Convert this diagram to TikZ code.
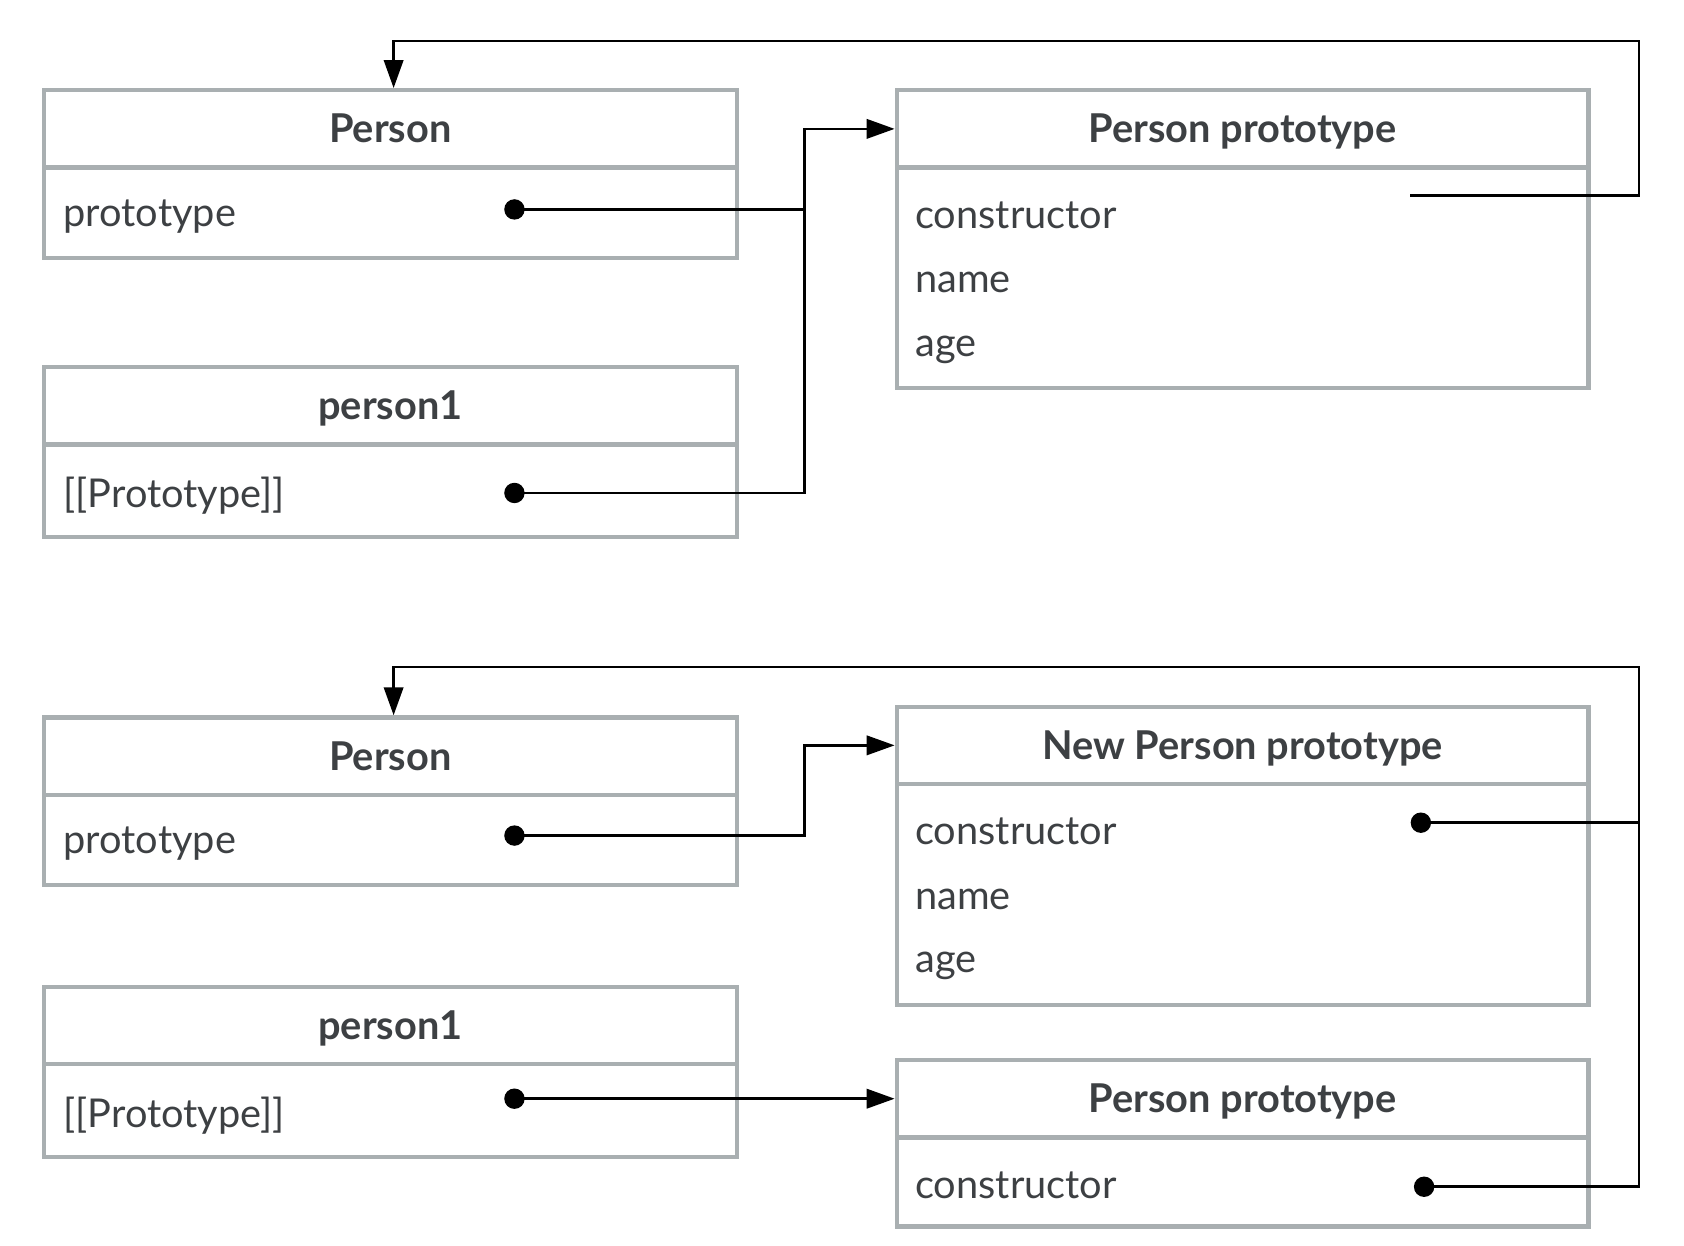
\documentclass[tikz,border=0pt]{standalone}
\usepackage{fontspec}
\setmainfont{Lato}
\usetikzlibrary{arrows.meta,calc}
\definecolor{boxgray}{HTML}{A9AFB1}
\definecolor{txt}{HTML}{3D4043}
\newcommand{\hdrfont}{\fontsize{37}{42}\selectfont\bfseries}
\newcommand{\fldfont}{\fontsize{37}{42}\selectfont}
\tikzset{
  hdr/.style={draw=boxgray, line width=4pt, minimum width=645pt, minimum height=72pt, inner sep=0pt, font=\hdrfont, text=txt, text height=26pt, text depth=0pt},
  body/.style={draw=boxgray, line width=4pt, minimum width=645pt, inner sep=0pt},
  fld/.style={anchor=west, font=\fldfont, text=txt, inner sep=0pt, text height=19pt, text depth=0pt},
  dotn/.style={circle, fill=black, minimum size=19pt, inner sep=0pt},
  conn/.style={line width=2.4pt, draw=black},
  arr/.style={conn, -{Triangle[length=26pt,width=18pt]}}
}
\begin{document}
\begin{tikzpicture}[x=1pt,y=-1pt]
\useasboundingbox (0,0) rectangle (1568,1160);
% ---------- top section ----------
\node[body, minimum height=84pt] (pB) at (363.5,198) {};
\node[hdr] (pH) at (363.5,120) {Person};
\node[fld] (pF) at (59,201) {prototype};
\node[dotn] (pD) at (479,195) {};

\node[body, minimum height=86pt] (p1B) at (363.5,457) {};
\node[hdr] (p1H) at (363.5,378) {person1};
\node[fld] (p1F) at (59,463) {[[Prototype]]};
\node[dotn] (p1D) at (479,459) {};

\node[body, minimum width=644pt, minimum height=205pt] (ppB) at (1157,258.5) {};
\node[hdr, minimum width=644pt] (ppH) at (1157,120) {Person prototype};
\node[fld] (ppF1) at (852,203) {constructor};
\node[fld] (ppF2) at (852,263) {name};
\node[fld] (ppF3) at (852,322) {age};
\coordinate (ppC) at (1313,182);
\coordinate (tR) at (1526,38);
\coordinate (jx) at (749,0);

\draw[conn] (pD.center) -- (pD.center -| jx);
\draw[arr] (p1D.center) -- (p1D.center -| jx) |- (ppH.west);
\draw[arr] (ppC) -| (tR) -| ($(pH.north)+(3,0)$);

% ---------- bottom section ----------
\node[body, minimum height=84pt] (qB) at (363.5,782) {};
\node[hdr] (qH) at (363.5,704) {Person};
\node[fld] (qF) at (59,785) {prototype};
\node[dotn] (qD) at (479,778) {};

\node[body, minimum height=86pt] (q1B) at (363.5,1034) {};
\node[hdr] (q1H) at (363.5,955) {person1};
\node[fld] (q1F) at (59,1040) {[[Prototype]]};
\node[dotn] (q1D) at (479,1023) {};

\node[body, minimum width=644pt, minimum height=206pt] (npB) at (1157,833) {};
\node[hdr, minimum width=644pt] (npH) at (1157,694) {New Person prototype};
\node[fld] (npF1) at (852,777) {constructor};
\node[fld] (npF2) at (852,837) {name};
\node[fld] (npF3) at (852,896) {age};
\node[dotn] (npD) at (1323,766) {};

\node[body, minimum width=644pt, minimum height=83pt] (opB) at (1157,1100.5) {};
\node[hdr, minimum width=644pt] (opH) at (1157,1023) {Person prototype};
\node[fld] (opF1) at (852,1106) {constructor};
\node[dotn] (opD) at (1326,1105) {};

\coordinate (bR) at (1526,621);
\draw[arr] (qD.center) -- (qD.center -| jx) |- (npH.west);
\draw[arr] (q1D.center) -- (opH.west |- q1D.center);
\draw[conn] (npD.center) -- (npD.center -| bR);
\draw[arr] (opD.center) -| (bR) -| ($(qH.north)+(3,0)$);
\end{tikzpicture}
\end{document}
